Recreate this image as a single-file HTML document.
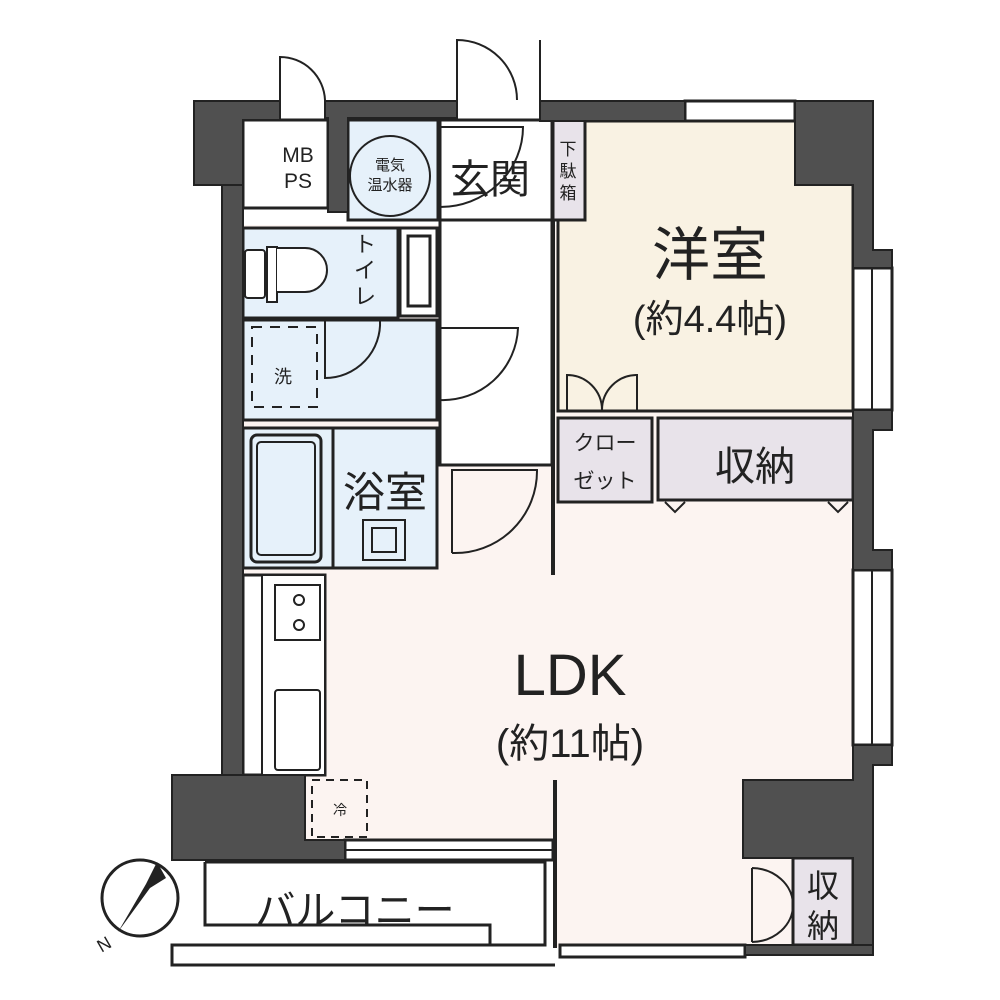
<!DOCTYPE html>
<html><head><meta charset="utf-8"><style>
html,body{margin:0;padding:0;background:#fff;width:1000px;height:1000px;overflow:hidden}
svg{display:block}
text{font-family:"Liberation Sans","Noto Sans CJK JP",sans-serif;fill:#222}
</style></head><body>
<svg width="1000" height="1000" viewBox="0 0 1000 1000" xmlns="http://www.w3.org/2000/svg">
<g stroke="#222" stroke-width="3">
<!-- floors -->
<path d="M243 225 H855 V947 H555 V860 H243 Z" fill="#fcf4f1" stroke="none"/>
<rect x="558" y="121" width="295" height="290" fill="#f9f2e3"/>
<rect x="440" y="120" width="112" height="345" fill="#fff"/>
<rect x="348" y="120" width="90" height="100" fill="#e6f1fa"/>
<rect x="440" y="120" width="112" height="100" fill="#fff"/>
<rect x="553" y="120" width="32" height="100" fill="#e8e3ea"/>
<rect x="243" y="228" width="155" height="90" fill="#e6f1fa"/>
<rect x="400" y="228" width="37" height="88" fill="#fff"/>
<rect x="408" y="236" width="22" height="70" fill="#fff"/>
<rect x="243" y="320" width="194" height="100" fill="#e6f1fa"/>
<rect x="243" y="428" width="90" height="140" fill="#e6f1fa"/>
<rect x="333" y="428" width="104" height="140" fill="#e6f1fa"/>
<rect x="251" y="435" width="70" height="127" rx="6" fill="#e6f1fa"/>
<rect x="257" y="442" width="58" height="113" rx="4" fill="none" stroke-width="2"/>
<rect x="363" y="520" width="42" height="40" fill="none" stroke-width="2"/>
<rect x="372" y="528" width="24" height="24" fill="none" stroke-width="2"/>
<rect x="558" y="418" width="94" height="84" fill="#e8e3ea"/>
<rect x="658" y="418" width="195" height="82" fill="#e8e3ea"/>
<rect x="793" y="858" width="60" height="87" fill="#e8e3ea"/>
<!-- kitchen -->
<rect x="243" y="575" width="82" height="200" fill="#fff"/>
<rect x="262" y="575" width="63" height="200" fill="#fff" stroke-width="2"/>
<rect x="275" y="585" width="45" height="55" fill="#fff" stroke-width="2"/>
<circle cx="299" cy="600" r="5" fill="none" stroke-width="2"/>
<circle cx="299" cy="625" r="5" fill="none" stroke-width="2"/>
<rect x="275" y="690" width="45" height="80" rx="3" fill="#fff" stroke-width="2"/>
<!-- toilet -->
<rect x="245" y="250" width="20" height="48" rx="3" fill="#fff" stroke-width="2"/>
<rect x="267" y="247" width="10" height="55" fill="#fff" stroke-width="2"/>
<path d="M277 248 H305 A22 22 0 0 1 305 292 H277" fill="#fff" stroke-width="2"/>
<!-- MBPS -->
<rect x="243" y="120" width="85" height="88" fill="#fff"/>
<!-- circle heater -->
<circle cx="390" cy="176" r="40" fill="#e6f1fa" stroke-width="2"/>
<!-- doors arcs -->
<path d="M457 100 V40 A60 60 0 0 1 517 100" fill="none" stroke-width="2"/>
<path d="M540 100 V40" fill="none" stroke-width="2"/>
<path d="M280 100 V57 A45 45 0 0 1 325 100" fill="none" stroke-width="2"/>
<path d="M440 127 H523 A83 80 0 0 1 440 207" fill="none" stroke-width="2"/>
<path d="M325 320 V378 A55 55 0 0 0 380 320" fill="none" stroke-width="2"/>
<path d="M440 400 V328 H518 A75 75 0 0 1 440 400" fill="none" stroke-width="2"/>
<path d="M452 553 V470 H537 A82 82 0 0 1 452 553" fill="none" stroke-width="2"/>
<path d="M567 410 V375 A35 35 0 0 1 602 410 M637 410 V375 A35 35 0 0 0 602 410" fill="none" stroke-width="2"/>
<path d="M752 868 V942 M752 868 A42 37 0 0 1 793 905 A42 37 0 0 1 752 942" fill="none" stroke-width="2"/>
<path d="M665 502 L675 512 L685 502 M828 502 L838 512 L848 502" fill="none" stroke-width="2"/>
<!-- partition lines -->
<line x1="553" y1="220" x2="553" y2="575" stroke-width="4"/>
<line x1="555" y1="780" x2="555" y2="948" stroke-width="4"/>
<line x1="440" y1="465" x2="552" y2="465"/>
<!-- dashed fixtures -->
<rect x="252" y="327" width="65" height="80" fill="none" stroke-width="2" stroke-dasharray="10,8"/>
<rect x="312" y="780" width="55" height="57" fill="none" stroke-width="2" stroke-dasharray="8,6"/>
<!-- balcony -->
<path d="M205 862 H545 V945 H172 V965 H555" fill="#fff" stroke-width="3"/>
<path d="M205 862 V925 H490 V945" fill="none"/>
<!-- windows -->
<rect x="685" y="101" width="110" height="20" fill="#fff"/>
<rect x="853" y="268" width="39" height="142" fill="#fff"/>
<line x1="872" y1="268" x2="872" y2="410" stroke-width="2"/>
<rect x="853" y="570" width="39" height="175" fill="#fff"/>
<line x1="872" y1="570" x2="872" y2="745" stroke-width="2"/>
<rect x="345" y="840" width="208" height="20" fill="#fff"/>
<line x1="345" y1="850" x2="553" y2="850" stroke-width="2"/>
<rect x="560" y="945" width="185" height="12" fill="#fff"/>
</g>
<!-- walls -->
<g fill="#505050" stroke="#222" stroke-width="2">
<path d="M194 101 H280 V120 H243 V185 H242 V775 H172 V860 H345 V840 H305 V775 H242 V228 H222 V185 H194 Z"/>
<path d="M222 185 H243 V775 H222 Z"/>
<path d="M325 101 H457 V118 H348 V212 H328 V118 H325 Z"/>
<path d="M540 101 H685 V121 H540 Z"/>
<path d="M795 101 H858 V101 H873 V250 H892 V268 H853 V185 H795 Z"/>
<path d="M853 410 H892 V430 H873 V550 H892 V570 H853 Z"/>
<path d="M853 745 H892 V765 H873 V950 H853 V858 H743 V780 H853 Z"/>
<path d="M745 945 H873 V955 H745 Z"/>
</g>
<!-- compass -->
<circle cx="140" cy="898" r="38" fill="#fff" stroke="#222" stroke-width="3"/>
<path d="M157 862 L166 878 L150 888 L118 932 L146 884 Z" fill="#222"/>
<text x="98" y="950" font-size="18" transform="rotate(-30 105 945)">N</text>
<!-- labels -->
<text x="298" y="162" font-size="21" text-anchor="middle">MB</text>
<text x="298" y="188" font-size="21" text-anchor="middle">PS</text>
<text x="390" y="170" font-size="15" text-anchor="middle">電気</text>
<text x="390" y="190" font-size="15" text-anchor="middle">温水器</text>
<text x="490" y="193" font-size="40" text-anchor="middle">玄関</text>
<text x="568" y="155" font-size="17" text-anchor="middle">下</text>
<text x="568" y="177" font-size="17" text-anchor="middle">駄</text>
<text x="568" y="199" font-size="17" text-anchor="middle">箱</text>
<text x="365" y="252" font-size="22" text-anchor="middle">ト</text>
<text x="365" y="278" font-size="22" text-anchor="middle">イ</text>
<text x="365" y="304" font-size="22" text-anchor="middle">レ</text>
<text x="283" y="383" font-size="18" text-anchor="middle">洗</text>
<text x="385" y="507" font-size="42" text-anchor="middle">浴室</text>
<text x="340" y="815" font-size="14" text-anchor="middle">冷</text>
<text x="710" y="275" font-size="58" text-anchor="middle">洋室</text>
<text x="710" y="332" font-size="38" text-anchor="middle">(約4.4帖)</text>
<text x="605" y="450" font-size="21" text-anchor="middle">クロー</text>
<text x="605" y="488" font-size="21" text-anchor="middle">ゼット</text>
<text x="755" y="480" font-size="40" text-anchor="middle">収納</text>
<text x="570" y="695" font-size="58" text-anchor="middle">LDK</text>
<text x="570" y="757" font-size="40" text-anchor="middle">(約11帖)</text>
<text x="823" y="897" font-size="32" text-anchor="middle">収</text>
<text x="823" y="937" font-size="32" text-anchor="middle">納</text>
<text x="355" y="924" font-size="40" text-anchor="middle">バルコニー</text>
</svg>
</body></html>
